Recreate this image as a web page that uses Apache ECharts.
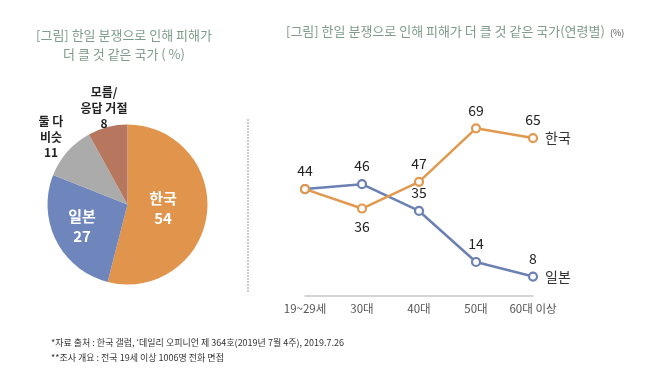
<!DOCTYPE html>
<html><head><meta charset="utf-8">
<script src="https://cdn.jsdelivr.net/npm/echarts@6/dist/echarts.min.js"></script>
<style>html,body{margin:0;padding:0;background:#fff}#c{width:650px;height:373px}</style>
</head><body><div id="c"></div>
<script>
const pieNames = ['한국', '일본', '둘 다\n비슷', '모름/\n응답 거절'];
const pieValues = [54, 27, 11, 8];
const ageCategories = ['19~29세', '30대', '40대', '50대', '60대 이상'];
const koreaValues = [44, 36, 47, 69, 65];
const japanValues = [44, 46, 35, 14, 8];

const FONT = '"Noto Sans CJK KR", "Noto Sans", sans-serif';
const pieColors = ['#E1944B', '#6E86BC', '#ABABAB', '#B7775F'];
const orange = '#E0994F', blue = '#6B80B3';
const titleColor = '#7f9b8c';

const chart = echarts.init(document.getElementById('c'), null, {renderer: 'canvas'});

const pieLabelPos = {0: [163, 208], 1: [82, 226], 2: [51, 137], 3: [104, 108]};

const pieData = pieNames.map((n, i) => ({
  name: n, value: pieValues[i], itemStyle: {color: pieColors[i]},
  label: i < 2
    ? {color: '#fff', fontSize: 15, fontWeight: 'bold', lineHeight: 20}
    : {color: '#222', fontSize: 12, fontWeight: 'bold', lineHeight: 15.5}
}));

chart.setOption({
  backgroundColor: '#fff',
  animation: false,
  textStyle: {fontFamily: FONT},
  graphic: [
    {type: 'text', x: 124, y: 26, style: {text: '[그림] 한일 분쟁으로 인해 피해가\n더 클 것 같은 국가 ( %)', fill: titleColor, font: '13px ' + FONT, textAlign: 'center', lineHeight: 19}},
    {type: 'text', left: 286, top: 25, style: {text: '[그림] 한일 분쟁으로 인해 피해가 더 클 것 같은 국가(연령별)', fill: titleColor, font: '13px ' + FONT}},
    {type: 'text', left: 610, top: 28, style: {text: '(%)', fill: '#555', font: '9px ' + FONT}},
    {type: 'line', shape: {x1: 248, y1: 119, x2: 248, y2: 293}, style: {stroke: '#999', lineWidth: 1, lineDash: [2, 1]}},
    {type: 'text', left: 51, top: 338, style: {text: '*자료 출처 : 한국 갤럽, ‘데일리 오피니언 제 364호(2019년 7월 4주), 2019.7.26', fill: '#333', font: '9px ' + FONT}},
    {type: 'text', left: 51, top: 353, style: {text: '**조사 개요 : 전국 19세 이상 1006명 전화 면접', fill: '#333', font: '9px ' + FONT}}
  ],
  grid: {left: 305, right: 117, top: 53, bottom: 77},
  xAxis: {
    type: 'category', data: ageCategories, boundaryGap: false,
    axisLine: {lineStyle: {color: '#c8c8c8', width: 1.5}},
    axisTick: {show: false},
    axisLabel: {color: '#555', fontSize: 11.5, margin: 7, fontFamily: FONT, interval: 0}
  },
  yAxis: {type: 'value', min: 0, max: 100, show: false, splitLine: {show: false}},
  series: [
    {
      type: 'pie', center: [127.5, 204.5], radius: 80, startAngle: 90, clockwise: true,
      avoidLabelOverlap: false,
      data: pieData,
      label: {
        show: true,
        position: 'inside',
        formatter: p => p.name + '\n' + p.value,
        fontFamily: FONT
      },
      labelLine: {show: false},
      labelLayout: function (params) {
        const p = pieLabelPos[params.dataIndex];
        return {x: p[0], y: p[1], align: 'center', verticalAlign: 'middle', hideOverlap: false, moveOverlap: null};
      },
      emphasis: {disabled: true},
      itemStyle: {borderWidth: 0}
    },
    {
      name: '한국', type: 'line', color: orange,
      data: koreaValues.map((v, i) => i === 1 ? {value: v, label: {position: 'bottom'}} : v),
      symbol: 'circle', symbolSize: 8,
      lineStyle: {width: 2.5, color: orange},
      itemStyle: {color: '#fff', borderColor: orange, borderWidth: 2.2},
      label: {show: true, fontSize: 14, color: '#222', distance: 6, position: 'top'},
      endLabel: {show: true, formatter: '{a}', fontSize: 14, color: '#333', distance: 12},
      emphasis: {disabled: true},
      z: 3
    },
    {
      name: '일본', type: 'line', color: blue,
      data: japanValues.map((v, i) => i === 0 ? {value: v, label: {show: false}} : v),
      symbol: 'circle', symbolSize: 8,
      lineStyle: {width: 2.5, color: blue},
      itemStyle: {color: '#fff', borderColor: blue, borderWidth: 2.2},
      label: {show: true, fontSize: 14, color: '#222', distance: 6, position: 'top'},
      endLabel: {show: true, formatter: '{a}', fontSize: 14, color: '#333', distance: 12},
      emphasis: {disabled: true},
      z: 2
    }
  ]
});
</script></body></html>
